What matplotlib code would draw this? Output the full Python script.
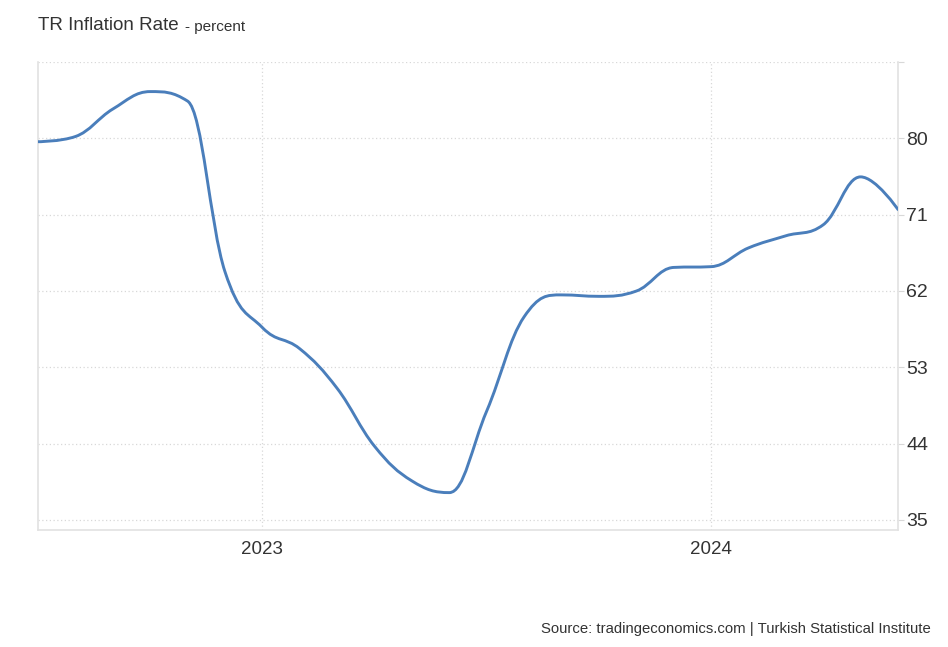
import numpy as np
import matplotlib.pyplot as plt
from matplotlib.path import Path
from matplotlib.patches import PathPatch

plt.rcParams['font.family'] = ['Liberation Sans', 'DejaVu Sans']

# monthly values, Jul 2022 .. Jun 2024
months = ['2022-07', '2022-08', '2022-09', '2022-10', '2022-11', '2022-12',
          '2023-01', '2023-02', '2023-03', '2023-04', '2023-05', '2023-06',
          '2023-07', '2023-08', '2023-09', '2023-10', '2023-11', '2023-12',
          '2024-01', '2024-02', '2024-03', '2024-04', '2024-05', '2024-06']
inflation = [79.6, 80.21, 83.45, 85.51, 84.39, 64.27,
             57.68, 55.18, 50.51, 43.68, 39.59, 38.21,
             47.83, 58.94, 61.53, 61.36, 61.98, 64.77,
             64.86, 67.07, 68.5, 69.8, 75.45, 71.6]

year_ticks = ['2023', '2024']
y_ticks = [35, 44, 53, 62, 71, 80, 89]

line_color = '#4a7ebb'
grid_color = '#d8d8d8'
text_color = '#333333'


def spline_path(xs, ys, smoothing=1.5):
    """Кубические кривые Безье через точки (сглаживание как в highcharts)"""
    n = len(xs)
    lc = [(xs[i], ys[i]) for i in range(n)]
    rc = [(xs[i], ys[i]) for i in range(n)]
    d = smoothing + 1
    for i in range(1, n - 1):
        px, py = xs[i], ys[i]
        lx, ly = xs[i - 1], ys[i - 1]
        nx, ny = xs[i + 1], ys[i + 1]
        lcx = (smoothing * px + lx) / d
        lcy = (smoothing * py + ly) / d
        rcx = (smoothing * px + nx) / d
        rcy = (smoothing * py + ny) / d
        corr = 0
        if rcx != lcx:
            corr = (rcy - lcy) * (rcx - px) / (rcx - lcx) + py - rcy
        lcy += corr
        rcy += corr
        if lcy > ly and lcy > py:
            lcy = max(ly, py)
            rcy = 2 * py - lcy
        elif lcy < ly and lcy < py:
            lcy = min(ly, py)
            rcy = 2 * py - lcy
        if rcy > ny and rcy > py:
            rcy = max(ny, py)
            lcy = 2 * py - rcy
        elif rcy < ny and rcy < py:
            rcy = min(ny, py)
            lcy = 2 * py - rcy
        lc[i] = (lcx, lcy)
        rc[i] = (rcx, rcy)
    verts = [(xs[0], ys[0])]
    codes = [Path.MOVETO]
    for i in range(1, n):
        verts += [rc[i - 1], lc[i], (xs[i], ys[i])]
        codes += [Path.CURVE4] * 3
    return Path(verts, codes)


x = np.arange(len(months))
y = np.array(inflation)

fig = plt.figure(figsize=(9.48, 6.47), dpi=100)
ax = fig.add_axes([38 / 948, (647 - 530) / 647, 860 / 948, 468 / 647])

ax.add_patch(PathPatch(spline_path(x, y), facecolor='none', edgecolor=line_color,
                       lw=2.1, capstyle='round', joinstyle='round', zorder=3))

ax.set_xlim(0, len(months) - 1)
ax.set_ylim(33.8, 89)

year_pos = [months.index(yr + '-01') for yr in year_ticks]
ax.set_xticks(year_pos)
ax.set_xticklabels(year_ticks, fontsize=13.5, color=text_color)
ax.set_yticks(y_ticks)
ax.set_yticklabels([str(v) if v < 89 else '' for v in y_ticks], fontsize=14, color=text_color)

ax.yaxis.tick_right()
ax.tick_params(axis='y', length=4, color=grid_color, pad=2)
ax.tick_params(axis='x', length=0, pad=8)

ax.grid(True, color=grid_color, linestyle=(0, (1, 2)), linewidth=0.9)
ax.set_axisbelow(True)

for s in ['left', 'right', 'bottom']:
    ax.spines[s].set_color('#e2e2e2')
    ax.spines[s].set_linewidth(1.2)
ax.spines['top'].set_visible(False)

fig.text(38 / 948, 1 - 26 / 647, 'TR Inflation Rate', fontsize=13.5, color=text_color,
         va='center', ha='left')
fig.text(185 / 948, 1 - 27 / 647, '- percent', fontsize=11, color=text_color,
         va='center', ha='left')
fig.text(931 / 948, 1 - 629 / 647, 'Source: tradingeconomics.com | Turkish Statistical Institute',
         fontsize=10.75, color=text_color, va='center', ha='right')

fig.savefig('out.png', dpi=100)
